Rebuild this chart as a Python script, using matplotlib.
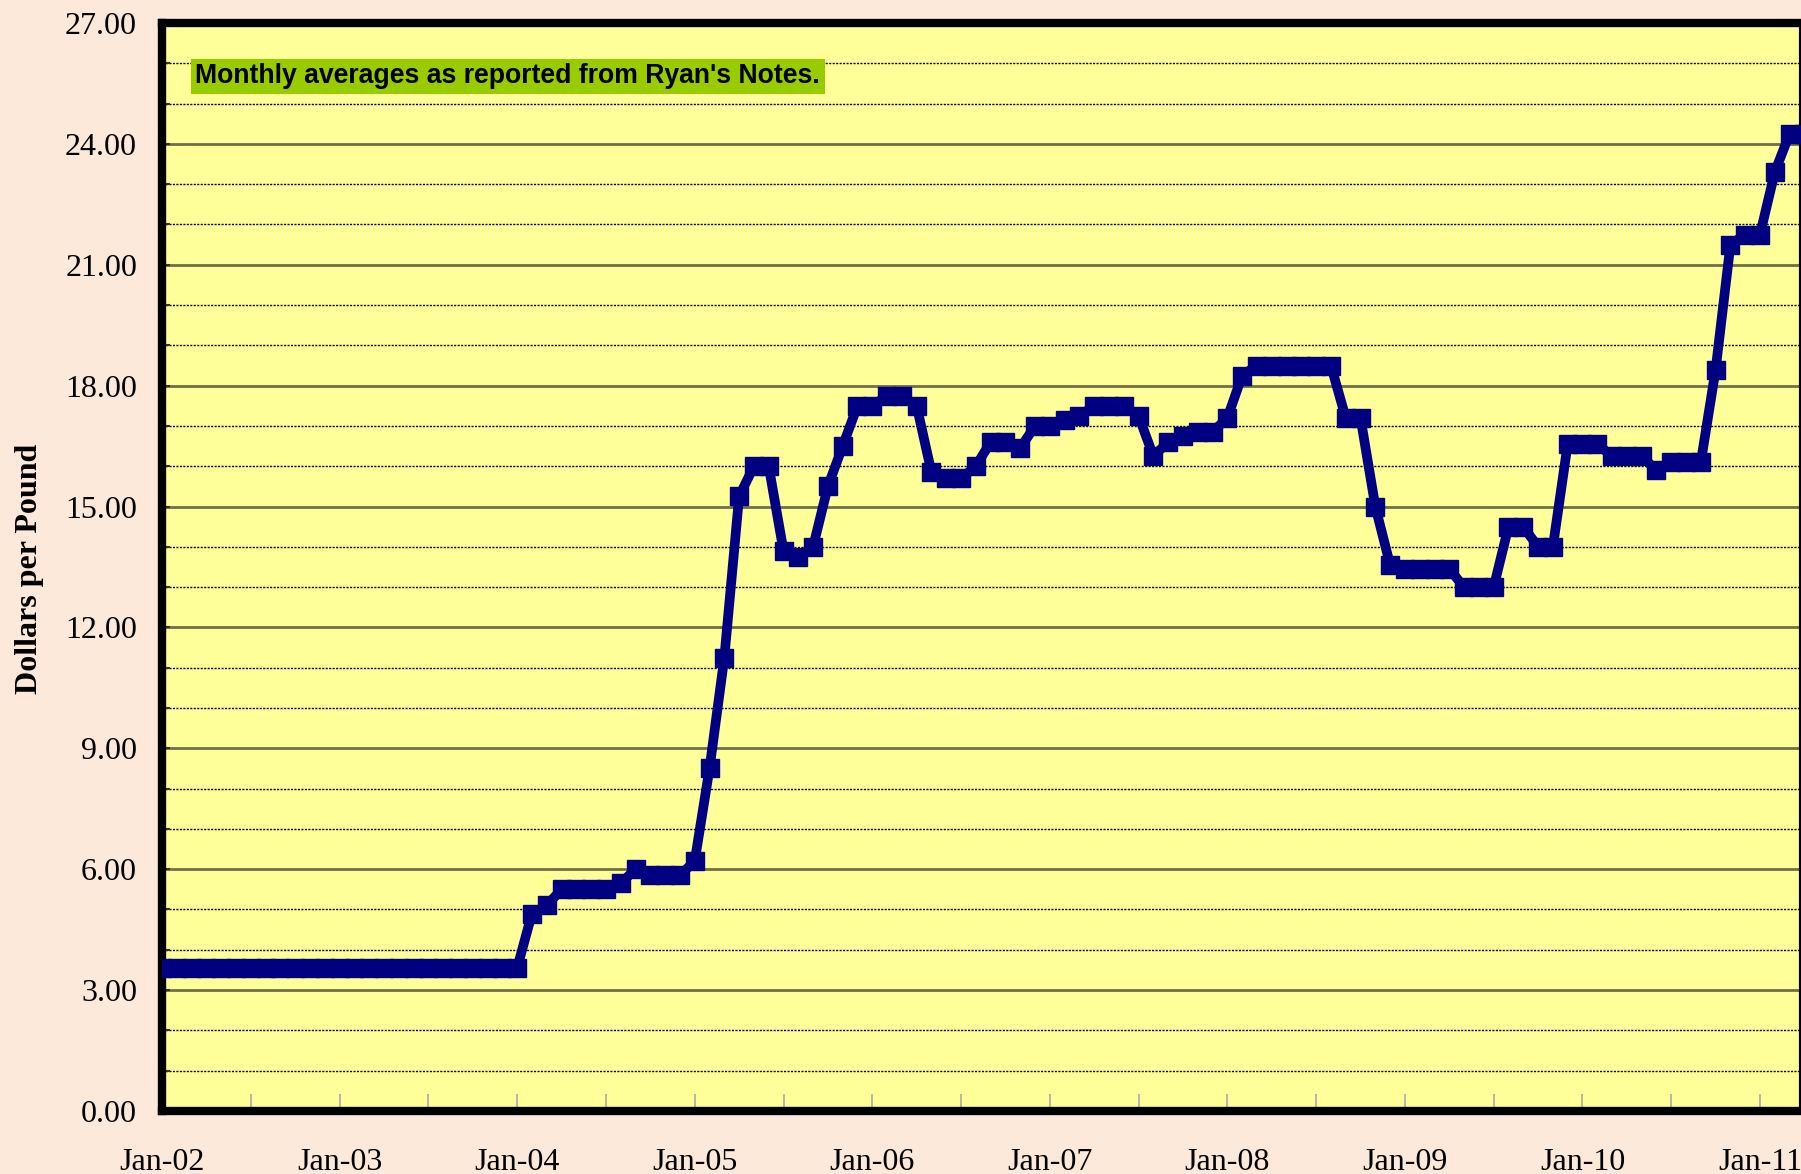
"""
plot.py: monthly price, dollars per pound, Jan-02 to Apr-11 (Ryan's Notes).
"""
import matplotlib
matplotlib.use("Agg")
import matplotlib.pyplot as plt
from matplotlib.ticker import FixedLocator, MultipleLocator

# ── data ─────────────────────────────────────────────────────────────────────
prices_2002 = [3.55] * 12
prices_2003 = [3.55] * 12
prices_2004 = [3.55, 4.90, 5.10, 5.50, 5.50, 5.50, 5.50, 5.65, 6.00, 5.85, 5.85, 5.85]
prices_2005 = [6.20, 8.50, 11.25, 15.25, 16.00, 16.00, 13.90, 13.75, 14.00, 15.50, 16.50, 17.50]
prices_2006 = [17.50, 17.75, 17.75, 17.50, 15.85, 15.70, 15.70, 16.00, 16.60, 16.60, 16.45, 17.00]
prices_2007 = [17.00, 17.15, 17.25, 17.50, 17.50, 17.50, 17.25, 16.25, 16.60, 16.75, 16.85, 16.85]
prices_2008 = [17.20, 18.25, 18.50, 18.50, 18.50, 18.50, 18.50, 18.50, 17.20, 17.20, 15.00, 13.55]
prices_2009 = [13.45, 13.45, 13.45, 13.45, 13.00, 13.00, 13.00, 14.50, 14.50, 14.00, 14.00, 16.55]
prices_2010 = [16.55, 16.55, 16.25, 16.25, 16.25, 15.90, 16.10, 16.10, 16.10, 18.40, 21.50, 21.75]
prices_2011 = [21.75, 23.30, 24.25, 24.25]

year_labels = ["Jan-02", "Jan-03", "Jan-04", "Jan-05", "Jan-06",
               "Jan-07", "Jan-08", "Jan-09", "Jan-10", "Jan-11"]
note = "Monthly averages as reported from Ryan's Notes."
y_label = "Dollars per Pound"

prices = (prices_2002 + prices_2003 + prices_2004 + prices_2005 + prices_2006
          + prices_2007 + prices_2008 + prices_2009 + prices_2010 + prices_2011)
months = list(range(len(prices)))          # month index, 0 = Jan-02
year_pos = [12 * i for i in range(len(year_labels))]

# ── style ────────────────────────────────────────────────────────────────────
BG = "#FDE9D9"
PLOT_BG = "#FFFF99"
NAVY = "#000080"
SERIF = ["Liberation Serif", "DejaVu Serif"]

fig = plt.figure(figsize=(18.01, 11.74), dpi=100, facecolor=BG)
ax = fig.add_axes([0.090, 0.0537, 0.910, 0.9267])
ax.set_facecolor(PLOT_BG)

ax.plot(months, prices, color=NAVY, lw=7, marker="s", ms=13,
        mec=NAVY, mfc=NAVY, solid_joinstyle="miter", zorder=5)

ax.set_xlim(0, 110.77)
ax.set_ylim(0, 27)

# gridlines: solid every 3, dotted every 1
ax.yaxis.set_major_locator(MultipleLocator(3))
ax.yaxis.set_minor_locator(MultipleLocator(1))
ax.grid(which="major", axis="y", color="#6f6f4a", lw=2.0, zorder=1)
ax.grid(which="minor", axis="y", color="black", lw=1.0, ls=(0, (1.5, 1)), zorder=1)
ax.set_yticklabels([f"{v:.2f}" for v in ax.get_yticks()],
                   family=SERIF, fontsize=23)
ax.tick_params(axis="y", which="both", direction="in", length=6,
               width=1.5, color="#333333", pad=18)

ax.xaxis.set_major_locator(FixedLocator(year_pos))
ax.xaxis.set_minor_locator(MultipleLocator(6))
ax.set_xticklabels(year_labels, family=SERIF, fontsize=23)
ax.tick_params(axis="x", which="both", direction="in", length=12,
               width=1.2, color="#aaaaaa", pad=27)

fig.text(30 / 1801, 0.5153, y_label, family=SERIF, fontsize=23,
         fontweight="bold", rotation=90, ha="center", va="center")

for side in ["left", "bottom", "top"]:
    ax.spines[side].set_linewidth(6)
    ax.spines[side].set_color("black")
ax.spines["right"].set_linewidth(3)
ax.spines["right"].set_color("black")

fig.text(0.1085, 0.935, note, family=["Liberation Sans", "DejaVu Sans"],
         fontsize=19.2, fontweight="bold", color="black", va="center", ha="left",
         bbox=dict(boxstyle="square,pad=0.18", fc="#99CC00", ec="none"))

fig.savefig("out.png", dpi=100, facecolor=BG)
